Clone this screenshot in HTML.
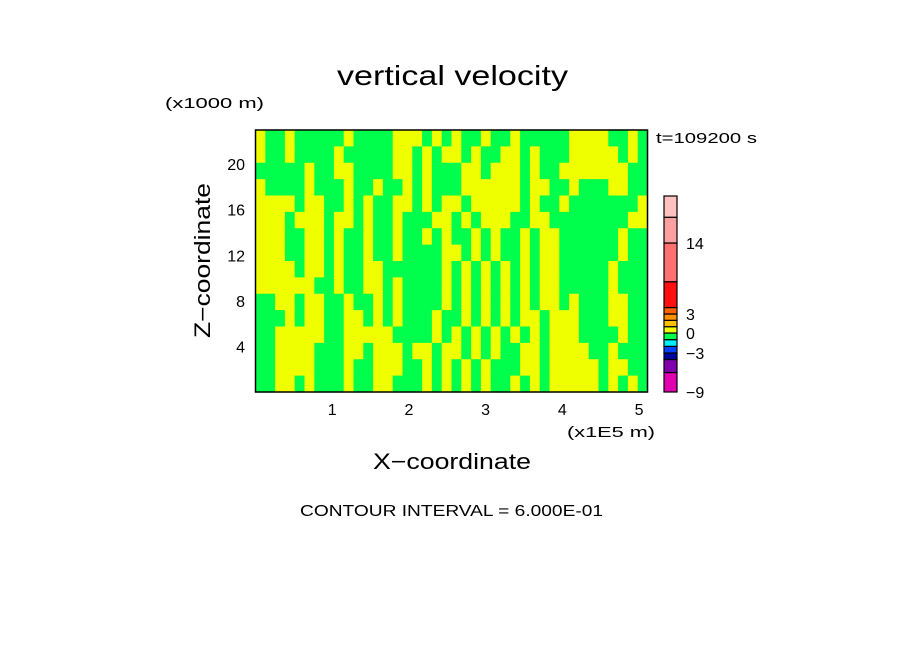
<!DOCTYPE html>
<html><head><meta charset="utf-8"><style>
html,body{margin:0;padding:0;background:#fff;width:904px;height:654px;overflow:hidden}
svg{display:block}
text{font-family:"Liberation Sans",sans-serif;fill:#000}
</style></head><body>
<svg id="chart" width="904" height="654" viewBox="0 0 904 654">
<text x="337" y="85" font-size="28" textLength="231" lengthAdjust="spacingAndGlyphs">vertical velocity</text>
<text x="165" y="108" font-size="15" textLength="99" lengthAdjust="spacingAndGlyphs">(x1000 m)</text>
<text x="656" y="143" font-size="15" textLength="101" lengthAdjust="spacingAndGlyphs">t=109200 s</text>
<text x="567" y="437" font-size="15" textLength="88" lengthAdjust="spacingAndGlyphs">(x1E5 m)</text>
<text x="373" y="469" font-size="22" textLength="158" lengthAdjust="spacingAndGlyphs">X−coordinate</text>
<text transform="translate(210,338) rotate(-90)" font-size="22" textLength="155" lengthAdjust="spacingAndGlyphs">Z−coordinate</text>
<text x="300" y="516" font-size="16" textLength="303" lengthAdjust="spacingAndGlyphs">CONTOUR INTERVAL = 6.000E-01</text>
<g id="field"></g>
<g id="axes"></g>
<g id="cbar"></g>
</svg>
<script>
// Field grid: rows from top (z high) to bottom; G = slightly negative, Y = slightly positive
const gridRows = [
"YGGYGGGGGYGGGGYYYGYGYGGYGGYGGGGGYYYYGGYG",
"YGGYGGGGYGGGGGYYGYGYYGYGGYYGYGGGYYYYYGYG",
"GGGGGYGGYYGGGGYYGYGGGYYGYYYGYGGYYYYYYYGG",
"YGGGGYGGGYGGYGGYGYGGGYYYYYYGYYGGYGGGYYGG",
"YYYYGYYGGYGYGGYYGYGYYGYYYYYGYGGYGGGGGGGY",
"YYYGYYYGYYGYGGYGGGYYGYGYYYGGYYGGGGGGGGYY",
"YYYGGYYGYGGYGGYGGYGYGGYGYGGYGYYGGGGGGYGG",
"YYYGGYYGYGGYGGYGGGGYYGYGYGGYGYYGGGGGGYGG",
"YYYYGYYGYGGYYGGGGGGYGYGYGYGYGYYGGGGGYGGG",
"YYYYYYGGYGGYYGYGGGGYGYGYGYGYGYYGGGGGYGGG",
"GGYYGYYGGYGGYGYGGGGYGYGYGYGYGYYGYGGGYYGG",
"GGGYGYYGGYYGYGYGGGYGGYGYGYGYYGYYYGGGYYGG",
"GGYYYYYGGYYYYYGGGGYGYGYGYGYGYGYYYGGGGYGG",
"GGYYYYGGGYYGYYYGYYGYYGYGYGGYYGYYYYGGYGGG",
"GGYYYYGGGYGGYYYGGYGYGYGYGGGYYGYYYYYGYYGG",
"GGYYGYGGGYGGYYGGGYGYGYGYGGYGYGYYYYYGYGYG"
];
const cellValues = {G: -0.3, Y: 0.3};
const xRange = [0, 5.11];
const zRange = [0, 23.0];
const xTicks = [1, 2, 3, 4, 5];
const zTicks = [4, 8, 12, 16, 20];
const cbBounds = [-9, -6, -4, -3, -2, -1, 0, 1, 2, 3, 4, 8, 14, 18, 21.3];
const cbColors = ["#e000b0","#8000b0","#0000a0","#0040ff","#00f0ff","#00ff4c","#f0ff00","#ffc000","#ff9000","#ff6000","#ff1010","#ff7070","#ffa0a0","#ffc0c0"];
const cbTickVals = [-9, -3, 0, 3, 14];
const cbAnchorVals = [-9, -3, 0, 3, 14, 21.3];

const NS = "http://www.w3.org/2000/svg";
const PX0 = 255.5, PX1 = 647.5, PY0 = 130, PY1 = 392;
const xS = v => PX0 + (v - xRange[0]) / (xRange[1] - xRange[0]) * (PX1 - PX0);
const zS = v => PY1 - (v - zRange[0]) / (zRange[1] - zRange[0]) * (PY1 - PY0);
const cbAnchorPx = [392, 353, 333, 314, 243, 196];
function cbY(v){
  for (let i = 0; i < cbAnchorVals.length - 1; i++) {
    const a = cbAnchorVals[i], b = cbAnchorVals[i+1];
    if (v <= b || i === cbAnchorVals.length - 2) {
      return cbAnchorPx[i] + (v - a) / (b - a) * (cbAnchorPx[i+1] - cbAnchorPx[i]);
    }
  }
}
function colorFor(v){
  for (let i = 0; i < cbColors.length; i++) if (v < cbBounds[i+1]) return cbColors[i];
  return cbColors[cbColors.length - 1];
}
function mk(tag, attrs, parent){
  const e = document.createElementNS(NS, tag);
  for (const k in attrs) e.setAttribute(k, attrs[k]);
  parent.appendChild(e);
  return e;
}
const field = document.getElementById("field");
const nR = gridRows.length, nC = gridRows[0].length;
for (let r = 0; r < nR; r++) {
  for (let c = 0; c < nC; c++) {
    const v = cellValues[gridRows[r][c]];
    const x0 = xS(xRange[0] + c * (xRange[1]-xRange[0]) / nC);
    const x1 = xS(xRange[0] + (c+1) * (xRange[1]-xRange[0]) / nC);
    const y0 = zS(zRange[1] - r * (zRange[1]-zRange[0]) / nR);
    const y1 = zS(zRange[1] - (r+1) * (zRange[1]-zRange[0]) / nR);
    const el = mk("rect", {x: x0, y: y0, width: x1 - x0 + 0.6, height: y1 - y0 + 0.6, fill: colorFor(v)}, field);
    
    
  }
}
const axes = document.getElementById("axes");
const frame = mk("rect", {x: PX0, y: PY0, width: PX1 - PX0, height: PY1 - PY0, fill: "none", stroke: "#000", "stroke-width": 1.5}, axes);


xTicks.forEach(t => {
  const el = mk("text", {x: xS(t), y: 415, "font-size": 16, "text-anchor": "middle"}, axes);
  el.textContent = t;
  
  
});
zTicks.forEach(t => {
  const el = mk("text", {x: 245, y: zS(t) + 6, "font-size": 16, "text-anchor": "end"}, axes);
  el.textContent = t;
  
  
});
const cbar = document.getElementById("cbar");
for (let i = 0; i < cbColors.length; i++) {
  const yTop = cbY(cbBounds[i+1]), yBot = cbY(cbBounds[i]);
  const el = mk("rect", {x: 664, y: yTop, width: 13, height: yBot - yTop, fill: cbColors[i], stroke: "#000", "stroke-width": 1.2}, cbar);
  
  
}
cbTickVals.forEach(t => {
  const el = mk("text", {x: 686, y: cbY(t) + 6, "font-size": 16}, cbar);
  el.textContent = t < 0 ? "−" + Math.abs(t) : t;
  
  
});
</script>
</body></html>
